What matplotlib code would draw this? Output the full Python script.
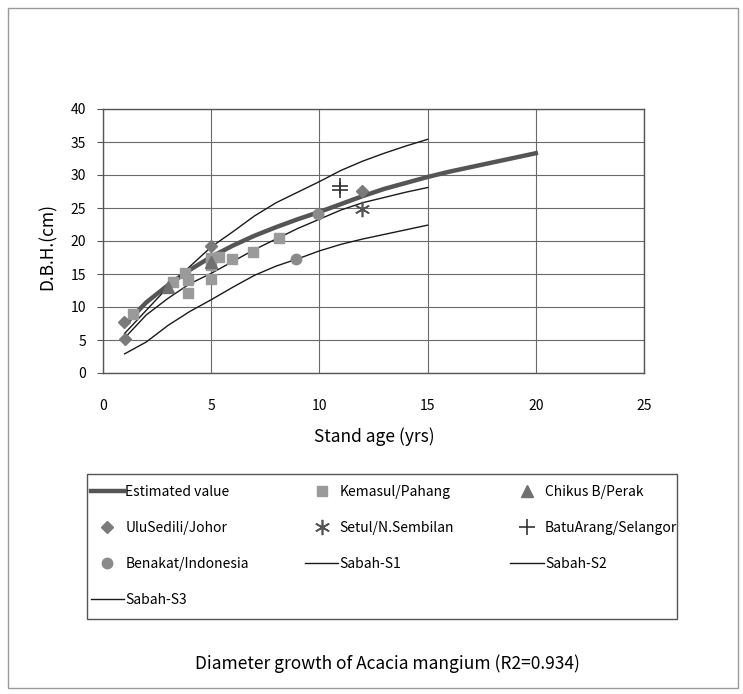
import matplotlib
matplotlib.use("Agg")
import matplotlib.pyplot as plt
from matplotlib.patches import Rectangle

plt.rcParams['font.family'] = ['Noto Sans CJK JP', 'DejaVu Sans']

# ---------------- data ----------------
est_x = [1, 2, 3, 4, 5, 6, 7, 8, 9, 10, 11, 12, 13, 14, 15, 16, 17, 18, 19, 20]
est_y = [7.3, 10.7, 13.3, 15.6, 17.6, 19.3, 20.8, 22.1, 23.3, 24.4, 25.6, 26.8, 27.9, 28.8, 29.7,
         30.5, 31.2, 31.9, 32.6, 33.3]

kem_x = [1.4, 3.25, 3.8, 3.95, 3.95, 5.0, 5.0, 5.0, 5.35, 5.95, 6.95, 8.15]
kem_y = [8.9, 13.8, 15.2, 14.1, 12.1, 17.5, 16.4, 14.2, 17.6, 17.2, 18.4, 20.4]

chik_x = [3.0, 5.0]
chik_y = [13.0, 16.8]

ulu_x = [0.95, 1.0, 5.0, 11.95]
ulu_y = [7.7, 5.2, 19.2, 27.6]

setul_x = [11.95]
setul_y = [24.8]

batu_x = [10.95, 10.95]
batu_y = [28.4, 27.7]

ben_x = [8.9, 9.95]
ben_y = [17.2, 24.1]

sabah_x = [1, 2, 3, 4, 5, 6, 7, 8, 9, 10, 11, 12, 13, 14, 15]
s1_y = [6.0, 9.5, 13.0, 16.1, 19.1, 21.4, 23.8, 25.8, 27.4, 29.0, 30.7, 32.1, 33.3, 34.4, 35.4]
s2_y = [5.3, 8.8, 11.3, 13.5, 15.1, 16.9, 18.7, 20.3, 21.9, 23.3, 24.7, 25.8, 26.6, 27.4, 28.1]
s3_y = [2.9, 4.7, 7.2, 9.3, 11.1, 13.0, 14.8, 16.2, 17.3, 18.5, 19.5, 20.3, 21.0, 21.7, 22.4]

x_ticks = [0, 5, 10, 15, 20, 25]
y_ticks = [0, 5, 10, 15, 20, 25, 30, 35, 40]

W, H = 743, 694
fig = plt.figure(figsize=(W / 100, H / 100), dpi=100)

def fx(px):
    return px / W

def fy(py):
    return 1 - py / H

# outer border
fig.patches.append(Rectangle((fx(8), fy(688)), fx(738) - fx(8), fy(8) - fy(688),
                             transform=fig.transFigure, fill=False,
                             edgecolor='#9a9a9a', linewidth=1.0))

ax = fig.add_axes([fx(103), fy(373), fx(644) - fx(103), fy(109) - fy(373)])
ax.set_xlim(0, 25)
ax.set_ylim(0, 40)
ax.set_xticks(x_ticks)
ax.set_yticks(y_ticks)
ax.grid(True, color='#6a6a6a', linewidth=0.8)
ax.set_axisbelow(True)
for s in ax.spines.values():
    s.set_color('#555555')
    s.set_linewidth(1.0)
ax.tick_params(axis='y', length=4, width=0.8, color='#555555', pad=8, labelsize=10)
ax.tick_params(axis='x', length=0, pad=19, labelsize=10)

l_est, = ax.plot(est_x, est_y, color='#555555', linewidth=3.2, label='Estimated value', zorder=3)
l_s1, = ax.plot(sabah_x, s1_y, color='#1a1a1a', linewidth=1.0, label='Sabah-S1', zorder=3)
l_s2, = ax.plot(sabah_x, s2_y, color='#1a1a1a', linewidth=1.0, label='Sabah-S2', zorder=3)
l_s3, = ax.plot(sabah_x, s3_y, color='#1a1a1a', linewidth=1.0, label='Sabah-S3', zorder=3)

m_kem, = ax.plot(kem_x, kem_y, linestyle='none', marker='s', markersize=7.5,
                 color='#9a9a9a', label='Kemasul/Pahang', zorder=4)
m_chik, = ax.plot(chik_x, chik_y, linestyle='none', marker='^', markersize=8,
                  color='#707070', label='Chikus B/Perak', zorder=4)
m_ulu, = ax.plot(ulu_x, ulu_y, linestyle='none', marker='D', markersize=6.5,
                 color='#7a7a7a', label='UluSedili/Johor', zorder=5)
m_setul, = ax.plot(setul_x, setul_y, linestyle='none', marker=(6, 2, 0), markersize=11,
                   markeredgewidth=1.2, color='#555555', label='Setul/N.Sembilan', zorder=5)
m_batu, = ax.plot(batu_x, batu_y, linestyle='none', marker='+', markersize=11,
                  markeredgewidth=1.2, color='#333333', label='BatuArang/Selangor', zorder=5)
m_ben, = ax.plot(ben_x, ben_y, linestyle='none', marker='o', markersize=7.5,
                 color='#8a8a8a', label='Benakat/Indonesia', zorder=5)

fig.text(fx(48), fy(246), 'D.B.H.(cm)', rotation=90, ha='center', va='center', fontsize=12.5)
fig.text(fx(374), fy(437), 'Stand age (yrs)', ha='center', va='center', fontsize=12.5)
fig.text(fx(387), fy(664), 'Diameter growth of Acacia mangium (R2=0.934)',
         ha='center', va='center', fontsize=12.5)

# legend box
fig.patches.append(Rectangle((fx(87), fy(619)), fx(677) - fx(87), fy(474) - fy(619),
                             transform=fig.transFigure, fill=False,
                             edgecolor='#555555', linewidth=1.0))

handles = [l_est, m_ulu, m_ben, l_s3, m_kem, m_setul, l_s1, m_chik, m_batu, l_s2]
leg = fig.legend(handles=handles, labels=[h.get_label() for h in handles],
                 ncol=3, loc='upper left',
                 bbox_to_anchor=(fx(88), fy(616), fx(680) - fx(88), fy(482) - fy(616)),
                 mode='expand', frameon=False, fontsize=10, numpoints=1,
                 handlelength=2.4, handletextpad=0.1, labelspacing=1.58,
                 columnspacing=0.5, borderaxespad=0, borderpad=0.2)

fig.savefig('out.png', dpi=100)
